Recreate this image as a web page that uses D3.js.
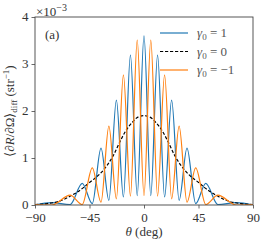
<!DOCTYPE html>
<html lang="en">
<head>
    <meta charset="UTF-8">
    <title>diff reflectivity</title>
    <script src="https://cdn.jsdelivr.net/npm/d3@7/dist/d3.min.js"></script>
    <style>
        body { margin: 0; background: #fff; }
    </style>
</head>
<body>
<script>
    // canvas
    const width = 266;
    const height = 245;
    const margin = {top: 17, right: 13, bottom: 40, left: 35};
    const font = '"Liberation Serif", "Times New Roman", serif';

    // values in units of 1e-3 str^-1 (peaks and troughs)
    const blueTheta = [-90, -76, -61, -51, -42.7, -35.5, -29, -22.8, -17, -11.2, -5.6, 0,
                       5.6, 11.2, 17, 22.8, 29, 35.5, 42.7, 51, 61, 76, 90];
    const blueVal   = [0.0, 0.05, 0.01, 0.46, 0.03, 1.21, 0.1, 2.23, 0.17, 3.19, 0.2, 3.6,
                       0.2, 3.19, 0.17, 2.23, 0.1, 1.21, 0.03, 0.46, 0.01, 0.05, 0.0];

    const orangeTheta = [-90, -76, -61, -51, -42.7, -35.5, -29, -22.8, -17, -11.2, -5.6, 0,
                         5.6, 11.2, 17, 22.8, 29, 35.5, 42.7, 51, 61, 76, 90];
    const orangeVal   = [0.01, 0.0, 0.21, 0.01, 0.79, 0.06, 1.68, 0.13, 2.77, 0.19, 3.51, 0.2,
                         3.51, 0.19, 2.77, 0.13, 1.68, 0.06, 0.79, 0.01, 0.21, 0.0, 0.01];

    const dashTheta = [-90, -80, -70, -60, -50, -45, -40, -35, -30, -25, -20, -15, -10, -5, 0,
                       5, 10, 15, 20, 25, 30, 35, 40, 45, 50, 60, 70, 80, 90];
    const dashVal   = [0.01, 0.03, 0.08, 0.2, 0.37, 0.48, 0.58, 0.7, 0.86, 1.07, 1.34, 1.58, 1.75, 1.87, 1.9,
                       1.87, 1.75, 1.58, 1.34, 1.07, 0.86, 0.7, 0.58, 0.48, 0.37, 0.2, 0.08, 0.03, 0.01];

    const xTicks = [-90, -45, 0, 45, 90];
    const yTicks = [0, 1, 2, 3, 4];

    const series = [
        {theta: blueTheta, val: blueVal, color: '#1f77b4', dash: null, label: '1'},
        {theta: dashTheta, val: dashVal, color: '#000', dash: '3.2,1.8', label: '0'},
        {theta: orangeTheta, val: orangeVal, color: '#ff7f0e', dash: null, label: '\u22121'}
    ];

    let svg = d3.select('body')
        .append('svg')
        .attr('width', width)
        .attr('height', height)
        .attr('font-family', font);

    let x = d3.scaleLinear().domain([-90, 90]).range([margin.left, width - margin.right]);
    let y = d3.scaleLinear().domain([0, 4]).range([height - margin.bottom, margin.top]);

    svg.append('clipPath').attr('id', 'clip')
        .append('rect')
        .attr('x', margin.left).attr('y', margin.top)
        .attr('width', x.range()[1] - x.range()[0])
        .attr('height', y.range()[0] - y.range()[1]);

    // lines
    let line = d3.line()
        .x(d => x(d[0]))
        .y(d => y(d[1]))
        .curve(d3.curveMonotoneX);

    let plot = svg.append('g').attr('clip-path', 'url(#clip)');
    series.forEach(s => {
        plot.append('path')
            .attr('d', line(s.theta.map((t, i) => [t, s.val[i]])))
            .attr('fill', 'none')
            .attr('stroke', s.color)
            .attr('stroke-width', 1.2)
            .attr('stroke-dasharray', s.dash);
    });

    // axes
    let xAxis = d3.axisBottom(x).tickValues(xTicks).tickSize(3.5).tickPadding(4.5)
        .tickFormat(d => d < 0 ? '\u2212' + Math.abs(d) : d);
    let yAxis = d3.axisLeft(y).tickValues(yTicks).tickSize(3.5).tickPadding(3)
        .tickFormat(d3.format('d'));

    let gx = svg.append('g').attr('transform', `translate(0,${y(0)})`).call(xAxis);
    let gy = svg.append('g').attr('transform', `translate(${x(-90)},0)`).call(yAxis);
    [gx, gy].forEach(g => {
        g.attr('font-family', font).attr('font-size', 13);
        g.select('.domain').remove();
        g.selectAll('line').attr('stroke', '#444').attr('stroke-width', 0.8);
        g.selectAll('text').attr('fill', '#333');
    });
    gy.selectAll('text').attr('dy', '0.3em');

    // frame
    svg.append('rect')
        .attr('x', x(-90)).attr('y', y(4))
        .attr('width', x(90) - x(-90)).attr('height', y(0) - y(4))
        .attr('fill', 'none').attr('stroke', '#444').attr('stroke-width', 0.9);

    // offset text
    let off = svg.append('text').attr('x', x(-90) + 1).attr('y', 16)
        .attr('font-size', 13).attr('fill', '#333');
    off.append('tspan').text('\u00d710');
    off.append('tspan').attr('dy', -5).attr('font-size', 10).text('\u22123');

    // panel label
    svg.append('text').attr('x', 45).attr('y', 39)
        .attr('font-size', 13).attr('fill', '#333').text('(a)');

    // legend
    let leg = svg.append('g');
    series.forEach((s, i) => {
        let ly = 33 + i * 18.5;
        leg.append('line')
            .attr('x1', 160).attr('x2', 188).attr('y1', ly).attr('y2', ly)
            .attr('stroke', s.color).attr('stroke-width', 1.2)
            .attr('stroke-dasharray', s.dash);
        let t = leg.append('text').attr('x', 197).attr('y', ly + 4)
            .attr('font-size', 13).attr('fill', '#555');
        t.append('tspan').attr('font-style', 'italic').text('\u03b3');
        t.append('tspan').attr('dy', 3).attr('font-size', 9).text('0');
        t.append('tspan').attr('dy', -3).text(' = ' + s.label);
    });

    // x label
    let xl = svg.append('text').attr('x', x(0)).attr('y', 236)
        .attr('text-anchor', 'middle').attr('font-size', 13).attr('fill', '#333');
    xl.append('tspan').attr('font-style', 'italic').text('\u03b8');
    xl.append('tspan').text(' (deg)');

    // y label
    let yl = svg.append('text')
        .attr('transform', `translate(14,${(y(0) + y(4)) / 2}) rotate(-90)`)
        .attr('text-anchor', 'middle').attr('font-size', 13).attr('fill', '#333');
    yl.append('tspan').text('\u27e8\u2202');
    yl.append('tspan').attr('font-style', 'italic').text('R');
    yl.append('tspan').text('/\u2202\u03a9\u27e9');
    yl.append('tspan').attr('dy', 3).attr('font-size', 9).text('diff');
    yl.append('tspan').attr('dy', -3).text(' (str');
    yl.append('tspan').attr('dy', -5).attr('font-size', 9).text('\u22121');
    yl.append('tspan').attr('dy', 5).text(')');
</script>
</body>
</html>
